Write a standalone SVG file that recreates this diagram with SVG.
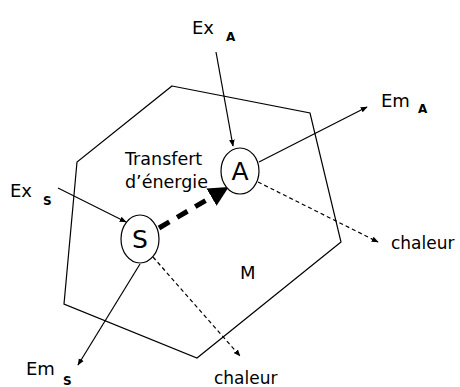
<svg xmlns="http://www.w3.org/2000/svg" width="460" height="387" viewBox="0 0 460 387">
<style>
text{font-family:"DejaVu Sans","Liberation Sans",sans-serif;fill:#000}
.lbl{font-size:18px}
.ch{font-size:17px}
.sub{font-size:12px;font-weight:bold}
.ln{stroke:#000;stroke-width:1.2;fill:none}
.dash{stroke:#000;stroke-width:1.2;fill:none;stroke-dasharray:4 3}
.node{fill:#fff;stroke:#000;stroke-width:1.2}
</style>
<defs>
<marker id="ah" viewBox="0 0 10 10" refX="9" refY="5" markerWidth="7" markerHeight="7" orient="auto" markerUnits="userSpaceOnUse">
<path d="M0,1 L10,5 L0,9 Z" fill="#000"/>
</marker>
<marker id="big" viewBox="0 0 10 10" refX="9" refY="5" markerWidth="20" markerHeight="22" orient="auto" markerUnits="userSpaceOnUse">
<path d="M0,0 L10,5 L0,10 Z" fill="#000"/>
</marker>
</defs>
<g id="systeme">
<polygon class="ln" points="172,86 310,113 341,242 197,358 64,304 77,162"/>
<text x="240" y="279" font-size="18">M</text>
</g>
<g id="connectors">
<line class="ln" x1="216" y1="52" x2="233" y2="146" marker-end="url(#ah)"/>
<line class="ln" x1="259" y1="162" x2="367" y2="107" marker-end="url(#ah)"/>
<line class="dash" x1="258" y1="182" x2="378" y2="242" marker-end="url(#ah)"/>
<line class="ln" x1="58" y1="188" x2="126" y2="222" marker-end="url(#ah)"/>
<line class="ln" x1="140" y1="264" x2="78" y2="365" marker-end="url(#ah)"/>
<line class="dash" x1="153" y1="257" x2="240" y2="356" marker-end="url(#ah)"/>
<line x1="159" y1="228" x2="227" y2="188" stroke="#000" stroke-width="5" stroke-dasharray="12 9" marker-end="url(#big)"/>
</g>
<g id="A">
<ellipse class="node" cx="240" cy="171" rx="19" ry="23"/>
<text x="240" y="180" font-size="25" text-anchor="middle">A</text>
</g>
<g id="S">
<ellipse class="node" cx="140" cy="239" rx="19" ry="24"/>
<text x="140" y="248" font-size="25" text-anchor="middle">S</text>
</g>
<g id="ExA"><text class="lbl" x="192" y="34">Ex</text><text class="sub" x="226" y="41">A</text></g>
<g id="EmA"><text class="lbl" x="381" y="107">Em</text><text class="sub" x="418" y="113">A</text></g>
<g id="ExS"><text class="lbl" x="10" y="197">Ex</text><text class="sub" x="43" y="205">S</text></g>
<g id="EmS"><text class="lbl" x="26" y="375">Em</text><text class="sub" x="63" y="385">S</text></g>
<g id="chaleurA"><text class="ch" x="391" y="249">chaleur</text></g>
<g id="chaleurS"><text class="ch" x="214" y="384">chaleur</text></g>
<g id="transfert"><text x="125" y="165" font-size="17.5">Transfert</text><text x="125" y="188" font-size="17.5">d’énergie</text></g>
</svg>
